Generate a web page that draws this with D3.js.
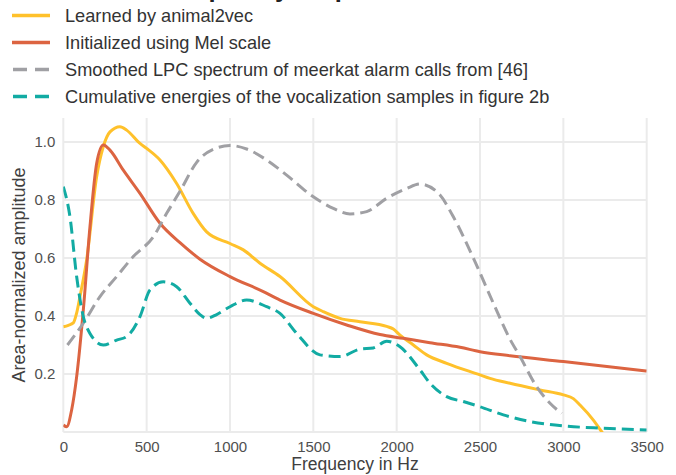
<!DOCTYPE html>
<html>
<head>
<meta charset="utf-8">
<script src="https://cdn.jsdelivr.net/npm/d3@7"></script>
<style>
  html, body { margin: 0; padding: 0; background: #fff; }
  svg { display: block; font-family: "Liberation Sans", Arial, sans-serif; }
</style>
</head>
<body>
<svg id="chart" width="676" height="475"></svg>
<script>
// Frequency responses (area-normalized) of the learned and reference filters
const learnedFreq = [0, 30, 60, 80, 100, 140, 200, 240, 280, 340, 380, 460, 500, 580, 680, 780, 860, 1000, 1080, 1180, 1300, 1500, 1560, 1660, 1780, 1940, 1980, 2020, 2100, 2180, 2300, 2500, 2560, 2680, 2860, 3000, 3060, 3100, 3180, 3230, 3280];
const learnedAmp  = [0.363, 0.368, 0.376, 0.41, 0.467, 0.593, 0.88, 0.984, 1.035, 1.053, 1.041, 0.995, 0.978, 0.938, 0.857, 0.753, 0.69, 0.65, 0.628, 0.582, 0.536, 0.432, 0.415, 0.392, 0.38, 0.364, 0.355, 0.334, 0.30, 0.266, 0.237, 0.197, 0.185, 0.168, 0.145, 0.128, 0.115, 0.093, 0.041, 0.001, -0.04];

const melFreq = [0, 20, 50, 80, 120, 160, 200, 240, 280, 360, 460, 580, 700, 820, 1000, 1200, 1300, 1500, 1700, 1900, 2040, 2200, 2380, 2500, 2680, 3000, 3500];
const melAmp  = [0.024, 0.018, 0.076, 0.19, 0.42, 0.708, 0.926, 0.99, 0.972, 0.903, 0.823, 0.72, 0.653, 0.596, 0.536, 0.484, 0.455, 0.409, 0.369, 0.336, 0.323, 0.308, 0.292, 0.277, 0.263, 0.243, 0.21];

const lpcFreq = [25, 120, 220, 320, 420, 540, 620, 700, 800, 900, 1000, 1100, 1220, 1340, 1500, 1620, 1720, 1820, 1940, 2060, 2140, 2260, 2340, 2460, 2580, 2680, 2740, 2840, 2920, 2990];
const lpcAmp  = [0.30, 0.375, 0.467, 0.536, 0.605, 0.673, 0.754, 0.83, 0.93, 0.975, 0.988, 0.976, 0.938, 0.886, 0.811, 0.771, 0.752, 0.76, 0.806, 0.84, 0.855, 0.817, 0.742, 0.6, 0.444, 0.32, 0.26, 0.156, 0.099, 0.064];

const energyFreq = [0, 40, 80, 120, 160, 240, 320, 380, 460, 520, 600, 680, 760, 820, 860, 920, 1000, 1100, 1220, 1300, 1400, 1540, 1660, 1780, 1860, 1940, 2020, 2140, 2200, 2300, 2400, 2500, 2640, 2800, 3000, 3240, 3500];
const energyAmp  = [0.846, 0.742, 0.536, 0.398, 0.34, 0.30, 0.317, 0.329, 0.398, 0.49, 0.518, 0.501, 0.444, 0.405, 0.392, 0.405, 0.432, 0.455, 0.432, 0.409, 0.34, 0.266, 0.26, 0.286, 0.29, 0.313, 0.294, 0.214, 0.168, 0.122, 0.105, 0.087, 0.059, 0.036, 0.021, 0.013, 0.007];

const seriesNames = [
  "Learned by animal2vec",
  "Initialized using Mel scale",
  "Smoothed LPC spectrum of meerkat alarm calls from [46]",
  "Cumulative energies of the vocalization samples in figure 2b"
];
const xTicks = [0, 500, 1000, 1500, 2000, 2500, 3000, 3500];
const yTicks = [0.2, 0.4, 0.6, 0.8, 1.0];
const titleText = "Filter frequency responses";

const series = [
  { name: seriesNames[0], f: learnedFreq, a: learnedAmp, color: "#ffc12b", dash: null },
  { name: seriesNames[1], f: melFreq,     a: melAmp,     color: "#dc6441", dash: null },
  { name: seriesNames[2], f: lpcFreq,     a: lpcAmp,     color: "#a0a0a4", dash: "12,6" },
  { name: seriesNames[3], f: energyFreq,  a: energyAmp,  color: "#12aba3", dash: "12,6" }
];

const svg = d3.select("#chart");
const plotLeft = 63.3, plotRight = 646.7, plotTop = 118, plotBottom = 432;

const x = d3.scaleLinear().domain([0, 3500]).range([plotLeft, plotRight]);
const y = d3.scaleLinear().domain([0, 1.0828]).range([plotBottom, plotTop]);

// title: sits above the top edge, only its descenders reach into view
const title = svg.append("text")
  .attr("x", 0).attr("y", -3.5)
  .attr("font-weight", "bold")
  .attr("font-size", 25.5)
  .attr("fill", "#222")
  .text(titleText);
const qOffset = title.node().getSubStringLength(0, titleText.indexOf("q"));
title.attr("x", 200 - qOffset);

// grid
const grid = svg.append("g").attr("stroke", "#ebebeb").attr("stroke-width", 2);
grid.selectAll("line.v").data(xTicks).join("line").attr("class", "v")
  .attr("x1", d => x(d)).attr("x2", d => x(d))
  .attr("y1", plotTop).attr("y2", plotBottom);
grid.selectAll("line.h").data([0].concat(yTicks)).join("line").attr("class", "h")
  .attr("x1", plotLeft).attr("x2", plotRight)
  .attr("y1", d => y(d)).attr("y2", d => y(d));

// axes (labels only, no domain lines)
const xAxis = svg.append("g").attr("transform", `translate(0,${plotBottom})`)
  .call(d3.axisBottom(x).tickValues(xTicks).tickSize(0).tickPadding(9).tickFormat(d3.format("d")));
const yAxis = svg.append("g").attr("transform", `translate(${plotLeft},0)`)
  .call(d3.axisLeft(y).tickValues(yTicks).tickSize(0).tickPadding(8).tickFormat(d3.format(".1f")));
[xAxis, yAxis].forEach(g => {
  g.select(".domain").remove();
  g.selectAll("text").attr("font-size", 15).attr("fill", "#505050")
    .attr("font-family", "Liberation Sans, Arial, sans-serif");
});

svg.append("text")
  .attr("x", (plotLeft + plotRight) / 2).attr("y", 470)
  .attr("text-anchor", "middle").attr("font-size", 17.5).attr("fill", "#404040")
  .text("Frequency in Hz");
svg.append("text")
  .attr("transform", `translate(25,${(plotTop + plotBottom) / 2}) rotate(-90)`)
  .attr("text-anchor", "middle").attr("font-size", 18).attr("fill", "#404040")
  .text("Area-normalized amplitude");

// curves
svg.append("clipPath").attr("id", "plot-clip").append("rect")
  .attr("x", plotLeft).attr("y", plotTop - 20)
  .attr("width", plotRight - plotLeft).attr("height", plotBottom - plotTop + 20);

const line = d3.line().x(d => x(d[0])).y(d => y(d[1])).curve(d3.curveMonotoneX);
const curves = svg.append("g").attr("clip-path", "url(#plot-clip)");
series.forEach(s => {
  curves.append("path")
    .datum(d3.zip(s.f, s.a))
    .attr("fill", "none")
    .attr("stroke", s.color)
    .attr("stroke-width", 3)
    .attr("stroke-dasharray", s.dash)
    .attr("stroke-linejoin", "round")
    .attr("d", line);
});

// legend
const legend = svg.append("g");
series.forEach((s, i) => {
  const cy = 15.5 + i * 27;
  legend.append("line")
    .attr("x1", 12).attr("x2", 50).attr("y1", cy).attr("y2", cy)
    .attr("stroke", s.color).attr("stroke-width", 3.5)
    .attr("stroke-dasharray", s.dash ? "14,8" : null)
    .attr("stroke-dashoffset", s.dash ? -1 : null);
  legend.append("text")
    .attr("x", 65).attr("y", cy).attr("dy", "0.35em")
    .attr("font-size", 18.2).attr("fill", "#333")
    .text(s.name);
});
</script>
</body>
</html>
